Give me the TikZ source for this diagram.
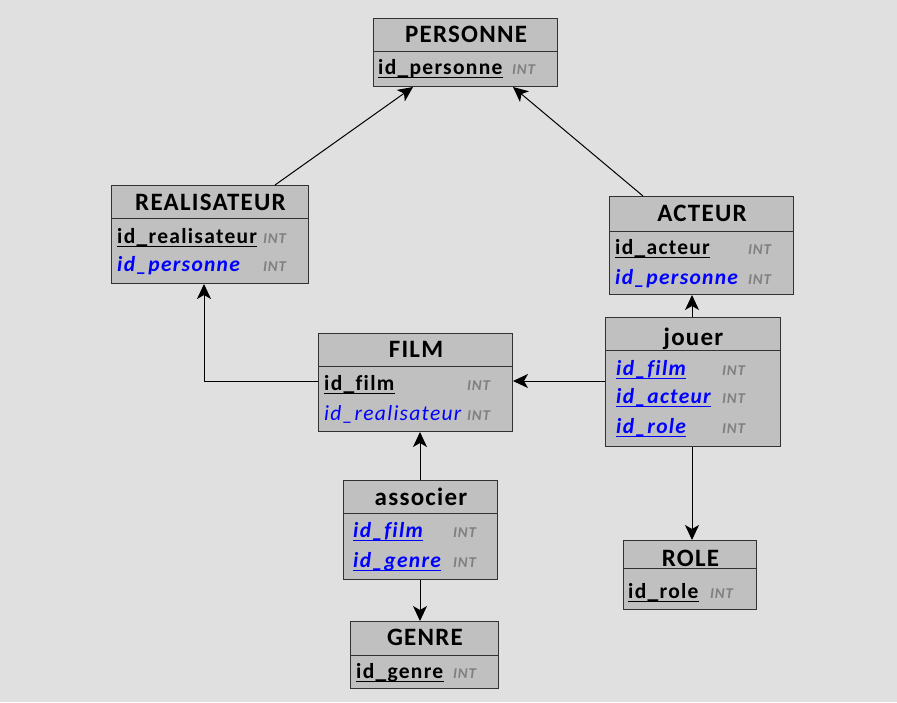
\documentclass[tikz,border=0pt]{standalone}
\usepackage{fontspec}
\setmainfont{Carlito}[Ligatures=CommonOff]
\usetikzlibrary{arrows.meta}
\definecolor{bg}{RGB}{224,224,224}
\definecolor{boxfill}{RGB}{192,192,192}
\definecolor{boxline}{RGB}{50,50,50}
\definecolor{fkblue}{RGB}{0,0,255}
\definecolor{intgray}{RGB}{128,128,128}
\newfontfamily\titlefont{Carlito}[Ligatures=CommonOff,LetterSpace=5]
\newfontfamily\fieldfont{Carlito}[Ligatures=CommonOff,LetterSpace=6]
\newfontfamily\intfont{Carlito}[Ligatures=CommonOff,LetterSpace=5]
\tikzset{
  tbl/.style={draw=boxline, fill=boxfill, line width=1pt, inner sep=0pt, anchor=north west},
  sep/.style={draw=boxline, line width=1pt},
  title/.style={inner sep=0pt, anchor=base, font=\titlefont\fontsize{25}{25}\selectfont\bfseries},
  pk/.style={inner sep=0pt, anchor=base west, font=\fieldfont\fontsize{21.5}{21.5}\selectfont\bfseries},
  fk/.style={inner sep=0pt, anchor=base west, text=fkblue, font=\fieldfont\fontsize{21.5}{21.5}\selectfont\bfseries\itshape},
  fkr/.style={inner sep=0pt, anchor=base west, text=fkblue, font=\fieldfont\fontsize{21.5}{21.5}\selectfont\itshape},
  int/.style={inner sep=0pt, anchor=base west, text=intgray, font=\intfont\fontsize{15}{15}\selectfont\bfseries\itshape},
  ulk/.style={draw=black, line width=1pt},
  ulb/.style={draw=fkblue, line width=1pt},
  conn/.style={draw=black, line width=1pt, -{Stealth[length=15pt,width=14pt,inset=4pt]}},
}
\newcommand\ulpk[1]{\draw[ulk] ([yshift=-3pt]#1.base west) -- ([yshift=-3pt]#1.base east);}
\newcommand\ulfk[1]{\draw[ulb] ([yshift=-3pt]#1.base west) -- ([yshift=-3pt]#1.base east);}
\begin{document}
\begin{tikzpicture}[x=1pt,y=-1pt]
\fill[bg] (0,0) rectangle (897,702);
\useasboundingbox (0,0) rectangle (897,702);

% PERSONNE
\node[tbl, minimum width=184pt, minimum height=68pt] (personne) at (373,18) {};
\draw[sep] (373,51) -- (557,51);
\node[title] (tpersonne) at (466,42) {PERSONNE};
\node[pk] (ppers) at (378,74) {id\_personne}; \ulpk{ppers}
\node[int] (ipers) at (512,74) {INT};

% REALISATEUR
\node[tbl, minimum width=197pt, minimum height=98pt] (realisateur) at (111,185) {};
\draw[sep] (111,218) -- (308,218);
\node[title] (treal) at (210.5,210) {REALISATEUR};
\node[pk] (preal) at (117,243) {id\_realisateur}; \ulpk{preal}
\node[int] (ireal1) at (263,243) {INT};
\node[fk] (freal) at (117,271) {id\_personne};
\node[int] (ireal2) at (263,271) {INT};

% ACTEUR
\node[tbl, minimum width=184pt, minimum height=98pt] (acteur) at (609,196) {};
\draw[sep] (609,231) -- (793,231);
\node[title] (tact) at (702,221) {ACTEUR};
\node[pk] (pact) at (615,254) {id\_acteur}; \ulpk{pact}
\node[int] (iact1) at (748,254) {INT};
\node[fk] (fact) at (615,284) {id\_personne};
\node[int] (iact2) at (748,284) {INT};

% jouer
\node[tbl, minimum width=175pt, minimum height=129pt] (jouer) at (605,317) {};
\draw[sep] (605,350) -- (780,350);
\node[title] (tjouer) at (693.5,345) {jouer};
\node[fk] (jf) at (616,375) {id\_film}; \ulfk{jf}
\node[int] (ij1) at (722,375) {INT};
\node[fk] (ja) at (616,403) {id\_acteur}; \ulfk{ja}
\node[int] (ij2) at (722,403) {INT};
\node[fk] (jr) at (616,433) {id\_role}; \ulfk{jr}
\node[int] (ij3) at (722,433) {INT};

% FILM
\node[tbl, minimum width=194pt, minimum height=98pt] (film) at (318,333) {};
\draw[sep] (318,366) -- (512,366);
\node[title] (tfilm) at (416,357) {FILM};
\node[pk] (pfilm) at (324,390) {id\_film}; \ulpk{pfilm}
\node[int] (if1) at (467,390) {INT};
\node[fkr] (ffilm) at (324,420) {id\_realisateur};
\node[int] (if2) at (467,420) {INT};

% associer
\node[tbl, minimum width=154pt, minimum height=99pt] (associer) at (343,480) {};
\draw[sep] (343,513) -- (497,513);
\node[title] (tass) at (421,505) {associer};
\node[fk] (af) at (353,537) {id\_film}; \ulfk{af}
\node[int] (ia1) at (453,537) {INT};
\node[fk] (ag) at (353,567) {id\_genre}; \ulfk{ag}
\node[int] (ia2) at (453,567) {INT};

% GENRE
\node[tbl, minimum width=148pt, minimum height=67pt] (genre) at (350,621) {};
\draw[sep] (350,655) -- (498,655);
\node[title] (tgenre) at (425,645) {GENRE};
\node[pk] (pgenre) at (356,678) {id\_genre}; \ulpk{pgenre}
\node[int] (ig) at (453,678) {INT};

% ROLE
\node[tbl, minimum width=133pt, minimum height=69pt] (role) at (623,540) {};
\draw[sep] (623,568) -- (756,568);
\node[title] (trole) at (690.5,566) {ROLE};
\node[pk] (prole) at (628,598) {id\_role}; \ulpk{prole}
\node[int] (ir) at (710,598) {INT};

% connectors
\draw[conn] (realisateur.north -| 275,0) -- (personne.south -| 413,0);
\draw[conn] (acteur.north -| 643,0) -- (personne.south -| 513,0);
\draw[conn] (film.west |- 0,381) -| (realisateur.south -| 204,0);
\draw[conn] (jouer.west |- 0,381) -- (film.east |- 0,381);
\draw[conn] (jouer.north -| 692,0) -- (acteur.south -| 692,0);
\draw[conn] (associer.north -| 420,0) -- (film.south -| 420,0);
\draw[conn] (associer.south -| 420,0) -- (genre.north -| 420,0);
\draw[conn] (jouer.south -| 692,0) -- (role.north -| 692,0);
\end{tikzpicture}
\end{document}
